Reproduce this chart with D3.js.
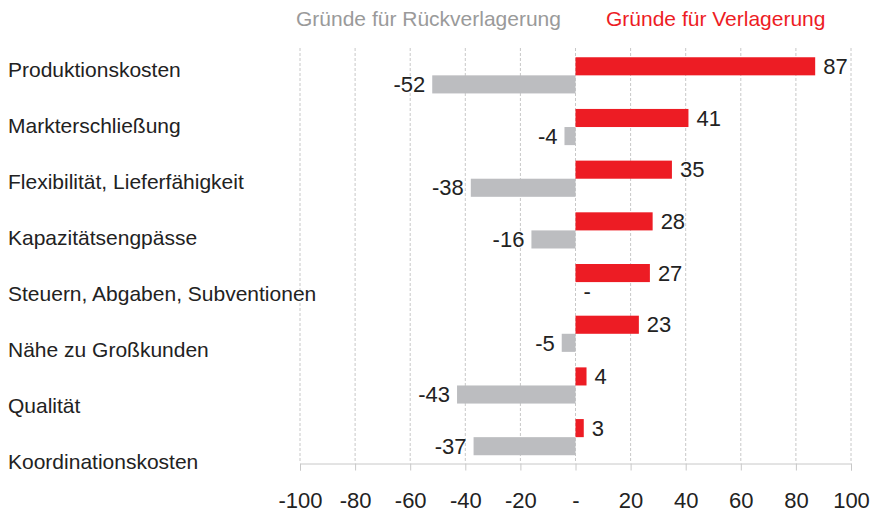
<!DOCTYPE html>
<html>
<head>
<meta charset="utf-8">
<script src="https://cdn.jsdelivr.net/npm/d3@7"></script>
<style>
    body { margin: 0; background: #fff; }
    text { font-family: "Liberation Sans", Arial, sans-serif; }
</style>
</head>
<body>
<script>
var categories = ["Produktionskosten", "Markterschließung", "Flexibilität, Lieferfähigkeit",
    "Kapazitätsengpässe", "Steuern, Abgaben, Subventionen", "Nähe zu Großkunden",
    "Qualität", "Koordinationskosten"];
var verlagerung = [87, 41, 35, 28, 27, 23, 4, 3];
var rueckverlagerung = [-52, -4, -38, -16, 0, -5, -43, -37];
var tickValues = [-100, -80, -60, -40, -20, 0, 20, 40, 60, 80, 100];
var legendLabels = ["Gründe für Rückverlagerung", "Gründe für Verlagerung"];

var width = 875,
    height = 512;
var red = "#ed1c24",
    grey = "#bcbdc0";

var svg = d3.select("body")
    .append("svg")
    .attr("width", width)
    .attr("height", height);

var x = d3.scaleLinear().domain([-100, 100]).range([300, 851]);
var y = d3.scaleBand()
    .domain(categories)
    .range([49.5, 463])
    .paddingInner(0.3)
    .paddingOuter(0.15);
// category labels sit on their own grid, like in the original
var yLabel = d3.scalePoint().domain(categories).range([70, 462]);
var barH = y.bandwidth() / 2;

function fmt(v) {
    return v === 0 ? "-" : String(v);
}

// dashed gridlines
svg.selectAll("line.grid")
    .data(tickValues)
    .enter()
    .append("line")
    .attr("class", "grid")
    .attr("x1", function (d) { return x(d); })
    .attr("x2", function (d) { return x(d); })
    .attr("y1", 48)
    .attr("y2", 463)
    .attr("stroke", "#c8c8c8")
    .attr("stroke-width", 1)
    .attr("stroke-dasharray", "3,2");

// axis
var axis = d3.axisBottom(x)
    .tickValues(tickValues)
    .tickSize(7)
    .tickFormat(fmt);
var gAxis = svg.append("g")
    .attr("transform", "translate(0,463.5)")
    .call(axis);
gAxis.select(".domain").attr("stroke", "#c8c8c8");
gAxis.selectAll(".tick line").attr("stroke", "#c8c8c8");
gAxis.selectAll(".tick text")
    .attr("y", 37)
    .attr("dy", "0.35em")
    .style("font-size", "22px")
    .style("font-family", "Liberation Sans, Arial, sans-serif")
    .attr("fill", "#222");

// category labels
svg.selectAll("text.cat")
    .data(categories)
    .enter()
    .append("text")
    .attr("class", "cat")
    .attr("x", 8)
    .attr("y", function (d) { return yLabel(d); })
    .attr("dy", "0.35em")
    .style("font-size", "21px")
    .attr("fill", "#222")
    .text(function (d) { return d; });

// red bars
svg.selectAll("rect.red")
    .data(verlagerung)
    .enter()
    .append("rect")
    .attr("class", "red")
    .attr("x", x(0))
    .attr("y", function (d, i) { return y(categories[i]); })
    .attr("width", function (d) { return x(d) - x(0); })
    .attr("height", barH)
    .attr("fill", red);

// grey bars
svg.selectAll("rect.grey")
    .data(rueckverlagerung)
    .enter()
    .append("rect")
    .attr("class", "grey")
    .attr("x", function (d) { return x(d); })
    .attr("y", function (d, i) { return y(categories[i]) + barH; })
    .attr("width", function (d) { return x(0) - x(d); })
    .attr("height", barH)
    .attr("fill", grey);

// value labels
svg.selectAll("text.vred")
    .data(verlagerung)
    .enter()
    .append("text")
    .attr("class", "vred")
    .attr("x", function (d) { return x(d) + 8; })
    .attr("y", function (d, i) { return y(categories[i]) + barH / 2; })
    .attr("dy", "0.35em")
    .style("font-size", "22px")
    .attr("fill", "#222")
    .text(fmt);

svg.selectAll("text.vgrey")
    .data(rueckverlagerung)
    .enter()
    .append("text")
    .attr("class", "vgrey")
    .attr("x", function (d) { return d === 0 ? x(0) + 8 : x(d) - 7; })
    .attr("y", function (d, i) { return y(categories[i]) + barH * 1.5; })
    .attr("dy", "0.35em")
    .attr("text-anchor", function (d) { return d === 0 ? "start" : "end"; })
    .style("font-size", "22px")
    .attr("fill", "#222")
    .text(fmt);

// legend
svg.append("text")
    .attr("x", 296)
    .attr("y", 19)
    .attr("dy", "0.35em")
    .style("font-size", "21px")
    .attr("fill", "#9a9a9a")
    .text(legendLabels[0]);
svg.append("text")
    .attr("x", 606)
    .attr("y", 19)
    .attr("dy", "0.35em")
    .style("font-size", "21px")
    .attr("fill", red)
    .text(legendLabels[1]);
</script>
</body>
</html>
